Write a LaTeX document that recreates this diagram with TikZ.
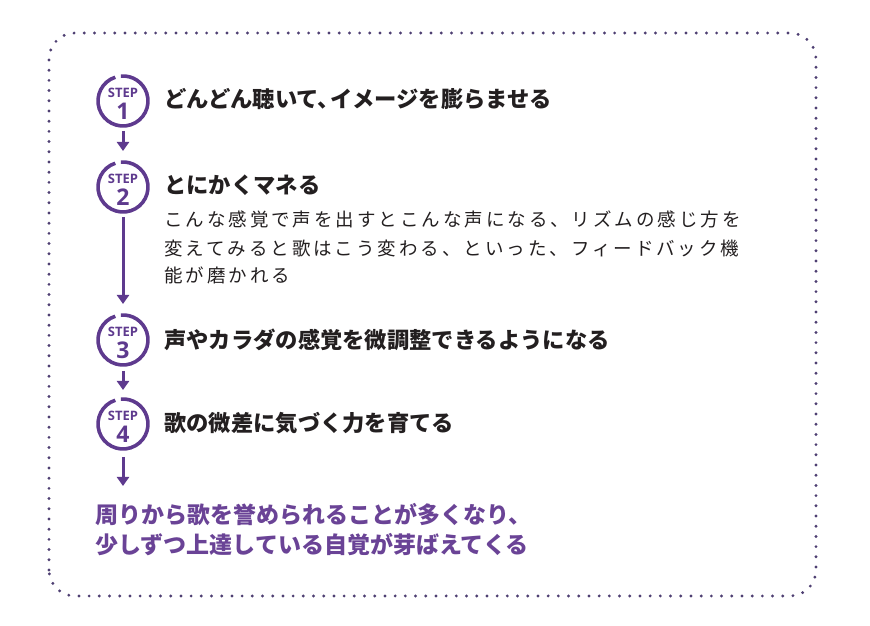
\documentclass[tikz,border=0pt]{standalone}
\usepackage{fontspec}
\usetikzlibrary{arrows.meta}
\setmainfont{Noto Sans CJK JP}
\newfontfamily\jp{Noto Sans CJK JP}
\newfontfamily\jpbody[LetterSpace=16]{Noto Sans CJK JP}
\newfontfamily\stepfont{Open Sans}
\definecolor{purp}{HTML}{5E3A8E}
\definecolor{purptext}{HTML}{6A4396}
\definecolor{dotc}{HTML}{4E3F72}
\definecolor{ink}{HTML}{231F20}
\begin{document}
\begin{tikzpicture}[x=1pt,y=1pt,
  stepcirc/.style={circle,minimum size=50pt,inner sep=0pt,outer sep=0pt},
  ring/.style={draw=purp,line width=3.6pt},
  steplbl/.style={inner sep=0pt,text=purp,font=\stepfont\bfseries\fontsize{13}{13}\selectfont},
  stepnum/.style={inner sep=0pt,text=purp,font=\stepfont\bfseries\fontsize{23}{23}\selectfont},
  title/.style={anchor=west,inner sep=0pt,text=ink,text height=0.88em,text depth=0.12em,font=\jp\bfseries\fontsize{22.3}{22.3}\selectfont},
  body/.style={anchor=west,inner sep=0pt,text=ink,text height=0.88em,text depth=0.12em,font=\jpbody\fontsize{18.5}{18.5}\selectfont},
  final/.style={anchor=west,inner sep=0pt,text=purptext,text height=0.88em,text depth=0.12em,font=\jp\bfseries\fontsize{23}{23}\selectfont},
  arr/.style={draw=purp,line width=3pt,-{Triangle[width=12pt,length=9pt]}}
]
\useasboundingbox (0,0) rectangle (870,626);
% dotted frame
\draw[dotc,line width=3.2pt,line cap=round,dash pattern=on 0pt off 10.2pt,rounded corners=26pt]
  (49,30) rectangle (816,593);

% step circles
\foreach \n/\y in {1/525,2/439,3/286,4/202}{
  \node[stepcirc] (s\n) at (123,\y) {};
  \draw[ring] (s\n.108) arc[start angle=108,end angle=455,radius=25pt];
  \node[steplbl] (s\n l) at ([yshift=8pt]s\n.center) {STEP};
  \node[stepnum] (s\n n) at ([yshift=-10pt]s\n.center) {\n};
}

% titles
\node[title] (t1) at (164,522) {どんどん聴いて、\kern-0.45emイメージを膨らませる};
\node[title] (t2) at (164,436) {とにかくマネる};
\node[body] (b1) at (164,403) {こんな感覚で声を出すとこんな声になる、リズムの感じ方を};
\node[body] (b2) at (164,374.5) {変えてみると歌はこう変わる、といった、フィードバック機};
\node[body] (b3) at (164,347) {能が磨かれる};
\node[title] (t3) at (164,281) {声やカラダの感覚を微調整できるようになる};
\node[title] (t4) at (164,198) {歌の微差に気づく力を育てる};

% final text
\node[final] (f1) at (95,106) {周りから歌を誉められることが多くなり、};
\node[final] (f2) at (95,76) {少しずつ上達している自覚が芽ばえてくる};

% arrows
\coordinate (e4) at (123,140);
\draw[arr] ([yshift=-5pt]s1.south) -- ([yshift=11pt]s2.north);
\draw[arr] ([yshift=-5pt]s2.south) -- ([yshift=11pt]s3.north);
\draw[arr] ([yshift=-6pt]s3.south) -- ([yshift=9pt]s4.north);
\draw[arr] ([yshift=-8pt]s4.south) -- (e4);
\end{tikzpicture}
\end{document}
